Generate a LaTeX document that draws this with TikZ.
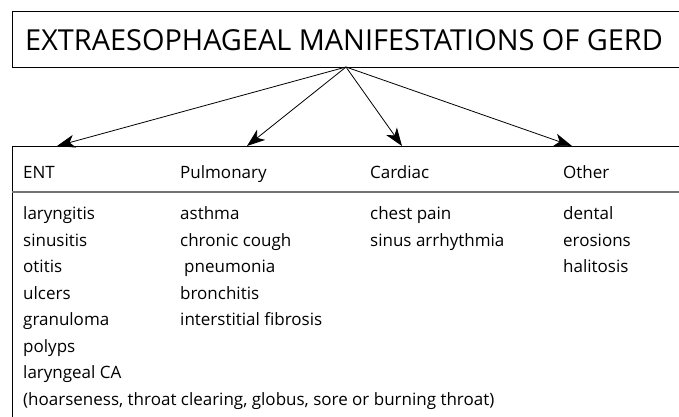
\documentclass[tikz,border=0pt]{standalone}
\usepackage{fontspec}
\setmainfont{Open Sans}
\usetikzlibrary{arrows.meta,positioning}
\definecolor{rulegray}{gray}{0.45}

\begin{document}
\begin{tikzpicture}[
  x=1pt, y=-1pt,
  head/.style={anchor=base west, inner sep=0pt, font=\fontsize{17}{20}\selectfont},
  item/.style={anchor=base west, inner sep=0pt, font=\fontsize{17}{20}\selectfont},
  link/.style={-{Stealth[length=18pt,width=13pt,inset=5pt]}, line width=0.8pt}
]
  \useasboundingbox (0,0) rectangle (679,416);

  % title box
  \draw[line width=0.9pt] (690,11) -- (12,11) -- (12,67) -- (690,67);
  \node[anchor=base west, inner sep=0pt, font=\fontsize{28.9}{32}\selectfont]
    (title) at (25,50) {EXTRAESOPHAGEAL MANIFESTATIONS OF GERD};
  \coordinate (hub) at (346,67);

  % table frame
  \draw[line width=0.9pt] (690,146) -- (12,146) -- (12,420);
  \draw[rulegray, line width=1.6pt] (12,192) -- (690,192);

  % arrow targets on the table
  \coordinate (tipA) at (57,146);
  \coordinate (tipB) at (247,146);
  \coordinate (tipC) at (402,146);
  \coordinate (tipD) at (572,146);

  % column heads
  \node[head] (ent) at (23,178) {ENT};
  \node[head] (pulm) at (180,178) {Pulmonary};
  \node[head] (card) at (370,178) {Cardiac};
  \node[head] (other) at (563,178) {Other};

  % column lists, 26.5 apart
  \foreach \txt [count=\i] in {laryngitis,sinusitis,otitis,ulcers,granuloma,polyps,laryngeal CA,
      {(hoarseness, throat clearing, globus, sore or burning throat)}}
    \node[item] (ent\i) at (23,{219.5+26.5*(\i-1)}) {\txt};
  \foreach \txt [count=\i] in {asthma,chronic cough,\hspace{4pt}pneumonia,bronchitis,interstitial fibrosis}
    \node[item] (pulm\i) at (180,{219.5+26.5*(\i-1)}) {\txt};
  \foreach \txt [count=\i] in {chest pain,sinus arrhythmia}
    \node[item] (card\i) at (370,{219.5+26.5*(\i-1)}) {\txt};
  \foreach \txt [count=\i] in {dental,erosions,halitosis}
    \node[item] (other\i) at (563,{219.5+26.5*(\i-1)}) {\txt};

  % arrows
  \foreach \t in {tipA,tipB,tipC,tipD}
    \draw[link] (hub) -- (\t);
\end{tikzpicture}
\end{document}
